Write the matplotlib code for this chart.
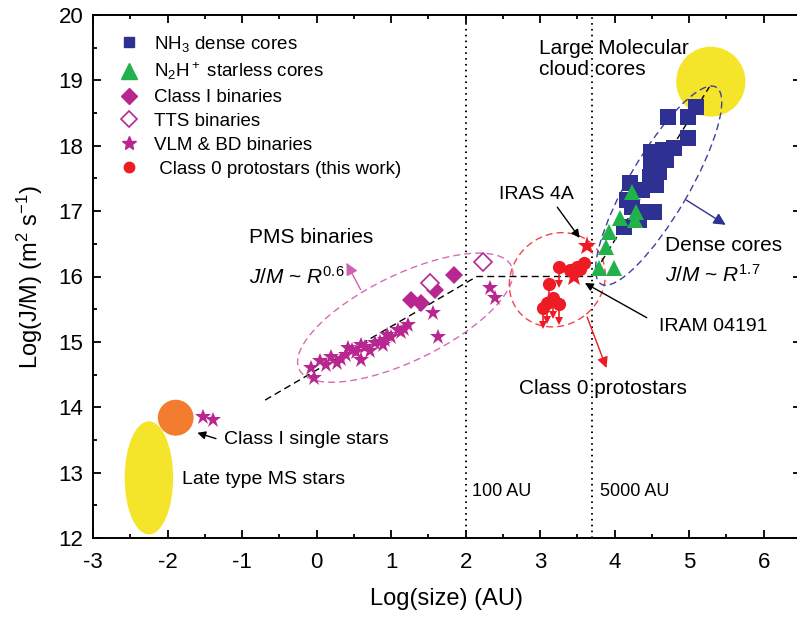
import matplotlib.pyplot as plt
from matplotlib.patches import Ellipse
from matplotlib.lines import Line2D
from matplotlib.transforms import ScaledTranslation

plt.rcParams['font.family'] = ['Liberation Sans', 'DejaVu Sans']
plt.rcParams['mathtext.fontset'] = 'custom'
plt.rcParams['mathtext.rm'] = 'Liberation Sans'
plt.rcParams['mathtext.it'] = 'Liberation Sans:italic'
plt.rcParams['mathtext.default'] = 'regular'
plt.rcParams['axes.unicode_minus'] = False

BLUE = '#2E3192'
GREEN = '#21B24B'
MAG = '#B8278F'
RED = '#ED1C24'
YELLOW = '#F5E52A'
ORANGE = '#F47C2F'

# NH3 dense cores
nh3_x = [5.09, 4.72, 4.99, 4.99, 4.49, 4.65, 4.80, 4.49, 4.69, 4.47, 4.59,
         4.20, 4.23, 4.45, 4.53, 4.33, 4.13, 4.16, 4.36, 4.56]
nh3_y = [18.59, 18.44, 18.44, 18.12, 17.91, 17.94, 17.97, 17.74, 17.78, 17.52,
         17.60, 17.43, 17.06, 16.99, 16.99, 16.87, 16.76, 17.17, 17.32, 17.40]

# N2H+ starless cores
n2h_x = [4.23, 4.29, 4.27, 4.07, 3.93, 3.89, 3.79, 3.99]
n2h_y = [17.29, 16.99, 16.87, 16.90, 16.68, 16.45, 16.13, 16.13]

# Class I binaries
cls1_x = [1.27, 1.40, 1.59, 1.85]
cls1_y = [15.64, 15.59, 15.79, 16.02]

# TTS binaries
tts_x = [1.52, 2.23]
tts_y = [15.90, 16.22]

# VLM & BD binaries
vlm_x = [-1.53, -1.39, -0.07, -0.04, 0.12, 0.20, 0.27, 0.33, 0.39, 0.47, 0.53,
         0.59, 0.65, 0.72, 0.79, 0.85, 0.89, 0.92, 1.00, 1.09, 1.13, 1.23,
         1.56, 1.63, 2.33, 2.39, 0.05, 0.42, 0.60, 0.95, 1.17]
vlm_y = [13.85, 13.81, 14.60, 14.45, 14.65, 14.77, 14.68, 14.74, 14.80, 14.88,
         14.84, 14.72, 14.92, 14.86, 14.98, 15.00, 14.95, 15.03, 15.08, 15.18,
         15.15, 15.26, 15.44, 15.08, 15.83, 15.67, 14.70, 14.90, 14.95, 15.10,
         15.20]

# Class 0 protostars (this work); upper limits flagged
c0_x = [3.40, 3.49, 3.59, 3.53, 3.25, 3.12, 3.09, 3.17, 3.25, 3.04]
c0_y = [16.10, 16.15, 16.21, 16.12, 16.15, 15.89, 15.60, 15.67, 15.58, 15.52]
c0_lim = [False, False, False, False, True, True, True, True, True, True]

# IRAS 4A and IRAM 04191
named_x = [3.63, 3.45]
named_y = [16.47, 15.99]

# J/M ~ R^0.6 and R^1.7 trends
trend_x = [-0.69, 2.15, 3.70, 5.27]
trend_y = [14.11, 16.00, 16.00, 18.90]

fig = plt.figure(figsize=(7.97, 6.23), dpi=100)
ax = fig.add_axes([93 / 797, 1 - 538 / 623, 708 / 797, 523 / 623])
ax.set_xlim(-3, 6.44)
ax.set_ylim(12, 20)

# stellar regions
ax.add_patch(Ellipse((-2.25, 12.92), 0.65, 1.73, color=YELLOW, lw=0))
ax.add_patch(Ellipse((-1.89, 13.84), 0.48, 0.55, color=ORANGE, lw=0))
ax.add_patch(Ellipse((5.29, 18.98), 0.93, 1.07, color=YELLOW, lw=0))

ax.axvline(2.0, color='k', lw=1.4, ls=(0, (0.8, 2.2)))
ax.axvline(3.699, color='k', lw=1.4, ls=(0, (0.8, 2.2)))

ax.plot(trend_x, trend_y, color='k', lw=1, ls=(0, (5, 3)), zorder=4)


def outline(cx, cy, w, h, ang, color):
    # size in inches, centred on a data point
    tr = fig.dpi_scale_trans + ScaledTranslation(cx, cy, ax.transData)
    ax.add_patch(Ellipse((0, 0), w, h, angle=ang, transform=tr, fill=False,
                         ec=color, lw=1, ls=(0, (5, 3)), zorder=3))


outline(1.19, 15.37, 2.36, 0.86, 26, '#D76BB6')
outline(3.23, 15.95, 1.00, 0.90, 40, '#F0444A')
outline(4.59, 17.39, 2.28, 0.60, 59.7, '#3C41A0')

ax.plot(nh3_x, nh3_y, ls='none', marker='s', ms=11, color=BLUE, mew=0, zorder=5)
ax.plot(n2h_x, n2h_y, ls='none', marker='^', ms=12, color=GREEN, mew=0, zorder=6)
ax.plot(vlm_x, vlm_y, ls='none', marker='*', ms=12, color=MAG, mew=0, zorder=5)
ax.plot(cls1_x, cls1_y, ls='none', marker='D', ms=9, color=MAG, mew=0, zorder=5)
ax.plot(tts_x, tts_y, ls='none', marker='D', ms=9, mfc='white', mec=MAG,
        mew=1.2, zorder=5)

for x, y, lim in zip(c0_x, c0_y, c0_lim):
    if lim:
        ax.plot([x, x], [y, y - 0.22], color=RED, lw=1.2, zorder=5)
        ax.plot(x, y - 0.26, ls='none', marker='v', ms=6, color=RED, mew=0,
                zorder=5)
ax.plot(c0_x, c0_y, ls='none', marker='o', ms=9.5, color=RED, mew=0, zorder=6)
ax.plot(named_x, named_y, ls='none', marker='*', ms=14, color=RED, mew=0,
        zorder=7)

# arrows
black = dict(arrowstyle='-|>', color='k', lw=1, mutation_scale=12,
             shrinkA=0, shrinkB=0)
ax.annotate('', xy=(3.53, 16.59), xytext=(3.23, 17.06), arrowprops=black)
ax.annotate('', xy=(3.60, 15.90), xytext=(4.43, 15.37), arrowprops=black)
ax.annotate('', xy=(-1.60, 13.61), xytext=(-1.35, 13.52), arrowprops=black)
ax.annotate('', xy=(0.40, 16.21), xytext=(0.59, 15.80),
            arrowprops=dict(arrowstyle='-|>', color='#D060B0', lw=1,
                            mutation_scale=18, shrinkA=0, shrinkB=0))
ax.annotate('', xy=(5.49, 16.79), xytext=(4.96, 17.17),
            arrowprops=dict(arrowstyle='-|>', color=BLUE, lw=1,
                            mutation_scale=18, shrinkA=0, shrinkB=0))
ax.annotate('', xy=(3.89, 14.60), xytext=(3.63, 15.38),
            arrowprops=dict(arrowstyle='-|>', color=RED, lw=1,
                            mutation_scale=16, shrinkA=0, shrinkB=0))

# labels
fs = 15
ax.text(-0.91, 16.59, 'PMS binaries', fontsize=fs, va='center')
ax.text(-0.91, 15.99, r'$\mathit{J/M}$ ~ $\mathit{R}^{0.6}$', fontsize=fs, va='center')
ax.text(4.67, 16.47, 'Dense cores', fontsize=fs, va='center')
ax.text(4.67, 16.02, r'$\mathit{J/M}$ ~ $\mathit{R}^{1.7}$', fontsize=fs, va='center')
ax.text(2.45, 17.25, 'IRAS 4A', fontsize=14, va='center')
ax.text(4.60, 15.23, 'IRAM 04191', fontsize=14, va='center')
ax.text(2.72, 14.28, 'Class 0 protostars', fontsize=fs, va='center')
ax.text(2.99, 19.33, 'Large Molecular\ncloud cores', fontsize=fs, va='center',
        linespacing=1.15)
ax.text(-1.24, 13.50, 'Class I single stars', fontsize=14, va='center')
ax.text(-1.80, 12.89, 'Late type MS stars', fontsize=14, va='center')
ax.text(2.09, 12.71, '100 AU', fontsize=13, va='center')
ax.text(3.80, 12.71, '5000 AU', fontsize=13, va='center')

handles = [
    Line2D([], [], ls='none', marker='s', ms=7, color=BLUE, label=r'NH$_3$ dense cores'),
    Line2D([], [], ls='none', marker='^', ms=11, color=GREEN, label=r'N$_2$H$^+$ starless cores'),
    Line2D([], [], ls='none', marker='D', ms=8, color=MAG, label='Class I binaries'),
    Line2D([], [], ls='none', marker='D', ms=8, mfc='white', mec=MAG, mew=1.2, label='TTS binaries'),
    Line2D([], [], ls='none', marker='*', ms=10, color=MAG, label='VLM & BD binaries'),
    Line2D([], [], ls='none', marker='o', ms=7.5, color=RED, label=' Class 0 protostars (this work)'),
]
ax.legend(handles=handles, loc='upper left', bbox_to_anchor=(0.038, 0.964),
          frameon=False, fontsize=13.5, handlelength=1.0, handletextpad=0.8,
          labelspacing=0.36, borderpad=0, borderaxespad=0)

ax.set_xticks(range(-3, 7))
ax.set_yticks(range(12, 21))
ax.set_xticks([v + 0.5 for v in range(-3, 7)], minor=True)
ax.set_yticks([v + 0.5 for v in range(12, 20)], minor=True)
ax.tick_params(which='both', direction='in', top=True, right=True, width=1.3)
ax.tick_params(which='major', length=6, labelsize=16)
ax.tick_params(which='minor', length=3)
ax.tick_params(axis='x', pad=10)
ax.tick_params(axis='y', pad=7)
for s in ax.spines.values():
    s.set_linewidth(1.4)

ax.set_xlabel('Log(size) (AU)', fontsize=17, labelpad=11)
ax.set_ylabel(r'Log(J/M) (m$^2$ s$^{-1}$)', fontsize=17, labelpad=10)

fig.savefig('out.png', dpi=100)
